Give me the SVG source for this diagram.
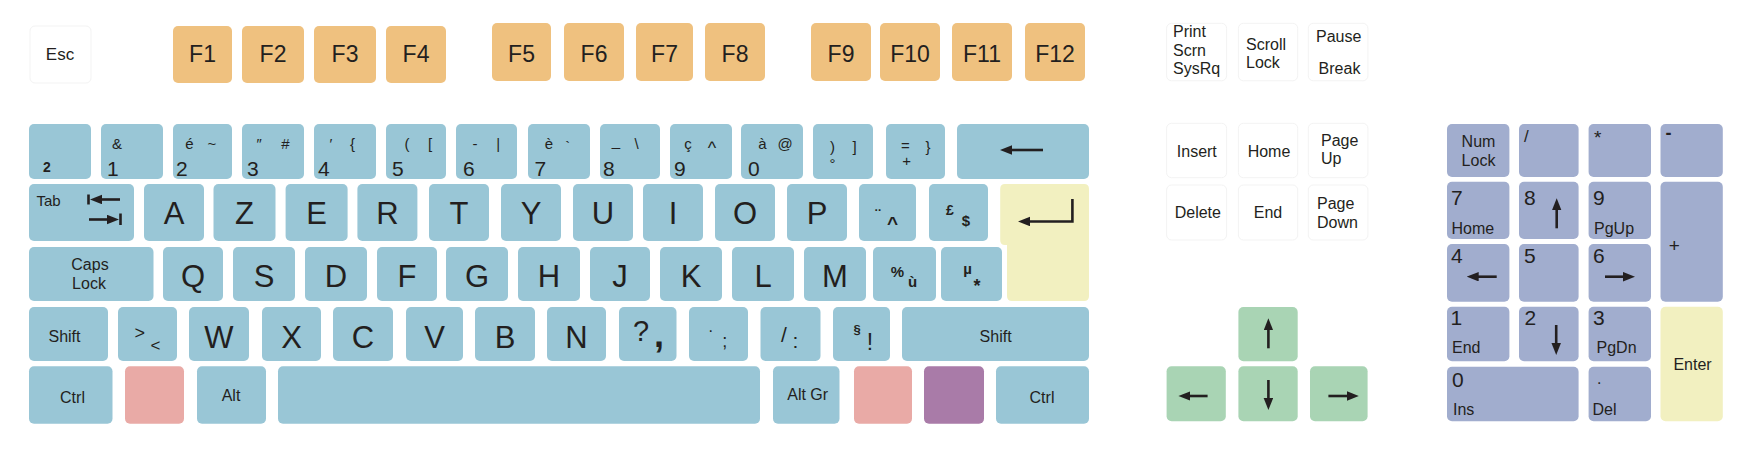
<svg xmlns="http://www.w3.org/2000/svg" width="1739" height="455" viewBox="0 0 1739 455">
<style>
rect{rx:5px;ry:5px}
.k{fill:#99C6D6}.f{fill:#EFC17F}.y{fill:#F2F0C0}.p{fill:#E9AAA6}.m{fill:#A97BA8}.g{fill:#A9D4B4}.n{fill:#A1ADCE}.w{fill:#FFFFFF;stroke:#F3F3F3;stroke-width:1}
text{font-family:"Liberation Sans",Arial,sans-serif;fill:#231F20}
.c{text-anchor:middle}
.L{font-size:31px}.F{font-size:23px}.t{font-size:16px}.d{font-size:21px}.s{font-size:15px}.b{font-weight:bold}
.a{stroke:#231F20;stroke-width:2.6;fill:none}
</style>
<defs>
<marker id="ah" markerUnits="userSpaceOnUse" markerWidth="12" markerHeight="10" refX="1" refY="4.75" orient="auto"><path d="M0,0 L12,4.75 L0,9.5 Z" fill="#231F20"/></marker>
</defs>
<rect width="1739" height="455" fill="#FFFFFF" style="rx:0"/>
<!-- Function row -->
<g id="key-esc"><rect class="w" x="30" y="26" width="61" height="57"/><text class="c" x="60" y="60" style="font-size:17px">Esc</text></g>
<g id="key-f1"><rect class="f" x="173" y="26" width="59" height="57"/><text class="c F" x="202.5" y="62">F1</text></g>
<g id="key-f2"><rect class="f" x="242" y="26" width="62" height="57"/><text class="c F" x="273" y="62">F2</text></g>
<g id="key-f3"><rect class="f" x="314" y="26" width="62" height="57"/><text class="c F" x="345" y="62">F3</text></g>
<g id="key-f4"><rect class="f" x="386" y="26" width="60" height="57"/><text class="c F" x="416" y="62">F4</text></g>
<g id="key-f5"><rect class="f" x="492" y="23" width="59" height="58"/><text class="c F" x="521.5" y="61.5">F5</text></g>
<g id="key-f6"><rect class="f" x="564" y="23" width="60" height="58"/><text class="c F" x="594" y="61.5">F6</text></g>
<g id="key-f7"><rect class="f" x="636" y="23" width="57" height="58"/><text class="c F" x="664.5" y="61.5">F7</text></g>
<g id="key-f8"><rect class="f" x="705" y="23" width="60" height="58"/><text class="c F" x="735" y="61.5">F8</text></g>
<g id="key-f9"><rect class="f" x="811" y="23" width="60" height="58"/><text class="c F" x="841" y="61.5">F9</text></g>
<g id="key-f10"><rect class="f" x="880" y="23" width="60" height="58"/><text class="c F" x="910" y="61.5">F10</text></g>
<g id="key-f11"><rect class="f" x="952" y="23" width="60" height="58"/><text class="c F" x="982" y="61.5">F11</text></g>
<g id="key-f12"><rect class="f" x="1025" y="23" width="60" height="58"/><text class="c F" x="1055" y="61.5">F12</text></g>
<!-- Number row -->
<g id="key-sup2"><rect class="k" x="29" y="124" width="62" height="55"/><text class="c b" x="47" y="171.5" style="font-size:14px">2</text></g>
<g id="key-1"><rect class="k" x="101" y="124" width="62" height="55"/><text class="c s" x="117" y="149">&amp;</text><text class="d" x="107" y="176">1</text></g>
<g id="key-2"><rect class="k" x="173" y="124" width="59" height="55"/><text class="c s" x="189.5" y="149">é</text><text class="c s" x="212" y="149">~</text><text class="d" x="176" y="176">2</text></g>
<g id="key-3"><rect class="k" x="242" y="124" width="62" height="55"/><text class="c s" x="258.5" y="149" font-style="italic">″</text><text class="c s" x="285.5" y="149">#</text><text class="d" x="247" y="176">3</text></g>
<g id="key-4"><rect class="k" x="314" y="124" width="62" height="55"/><text class="c s" x="331" y="149">′</text><text class="c s" x="352.5" y="149">{</text><text class="d" x="318" y="176">4</text></g>
<g id="key-5"><rect class="k" x="386" y="124" width="60" height="55"/><text class="c s" x="407" y="149">(</text><text class="c s" x="430" y="149">[</text><text class="d" x="392" y="176">5</text></g>
<g id="key-6"><rect class="k" x="456" y="124" width="61" height="55"/><text class="c s" x="475" y="149">-</text><text class="c s" x="498.3" y="149">|</text><text class="d" x="463" y="176">6</text></g>
<g id="key-7"><rect class="k" x="528" y="124" width="62" height="55"/><text class="c s" x="549" y="149">è</text><text class="c s" x="567.7" y="152">`</text><text class="d" x="534.5" y="176">7</text></g>
<g id="key-8"><rect class="k" x="600" y="124" width="60" height="55"/><text class="c s" x="616" y="146">_</text><text class="c s" x="636.7" y="149">\</text><text class="d" x="603" y="176">8</text></g>
<g id="key-9"><rect class="k" x="670" y="124" width="62" height="55"/><text class="c s" x="688" y="149">ç</text><text class="c" x="712" y="154" style="font-size:18px">^</text><text class="d" x="674" y="176">9</text></g>
<g id="key-0"><rect class="k" x="741" y="124" width="62" height="55"/><text class="c s" x="762.5" y="149">à</text><text class="c s" x="785" y="149">@</text><text class="d" x="748" y="176">0</text></g>
<g id="key-paren"><rect class="k" x="813" y="124" width="60" height="55"/><text class="c s" x="832.5" y="152">)</text><text class="c s" x="832.5" y="169">°</text><text class="c s" x="854.5" y="152">]</text></g>
<g id="key-equal"><rect class="k" x="886" y="124" width="59" height="55"/><text class="c s" x="905.3" y="151">=</text><text class="c s" x="906.7" y="165.5">+</text><text class="c s" x="928" y="152">}</text></g>
<g id="key-backspace"><rect class="k" x="957" y="124" width="132" height="55"/><line class="a" x1="1043" y1="150" x2="1011" y2="150" marker-end="url(#ah)"/></g>
<!-- Row 2 -->
<g id="key-tab"><rect class="k" x="29" y="184" width="105" height="57"/><text class="s" x="36.5" y="205.5">Tab</text>
<line class="a" x1="120" y1="199.5" x2="101" y2="199.5" marker-end="url(#ah)"/><line class="a" x1="88.5" y1="194.5" x2="88.5" y2="204.5"/>
<line class="a" x1="89" y1="219.5" x2="108" y2="219.5" marker-end="url(#ah)"/><line class="a" x1="120.5" y1="213.5" x2="120.5" y2="225"/></g>
<g id="key-a"><rect class="k" x="144" y="184" width="60" height="57"/><text class="c L" x="174" y="224">A</text></g>
<g id="key-z"><rect class="k" x="213.5" y="184" width="62" height="57"/><text class="c L" x="244.5" y="224">Z</text></g>
<g id="key-e"><rect class="k" x="285.6" y="184" width="62" height="57"/><text class="c L" x="316.6" y="224">E</text></g>
<g id="key-r"><rect class="k" x="357.4" y="184" width="60" height="57"/><text class="c L" x="387.4" y="224">R</text></g>
<g id="key-t"><rect class="k" x="429" y="184" width="60" height="57"/><text class="c L" x="459" y="224">T</text></g>
<g id="key-y"><rect class="k" x="501" y="184" width="60" height="57"/><text class="c L" x="531" y="224">Y</text></g>
<g id="key-u"><rect class="k" x="573" y="184" width="60" height="57"/><text class="c L" x="603" y="224">U</text></g>
<g id="key-i"><rect class="k" x="643" y="184" width="60" height="57"/><text class="c L" x="673" y="224">I</text></g>
<g id="key-o"><rect class="k" x="715" y="184" width="60" height="57"/><text class="c L" x="745" y="224">O</text></g>
<g id="key-p"><rect class="k" x="787" y="184" width="60" height="57"/><text class="c L" x="817" y="224">P</text></g>
<g id="key-circ"><rect class="k" x="859" y="184" width="57" height="57"/><text class="c b" x="878" y="221" style="font-size:16px">¨</text><text class="c b" x="892.5" y="230" style="font-size:19px">^</text></g>
<g id="key-pound"><rect class="k" x="929" y="184" width="59" height="57"/><text class="c b" x="950" y="215" style="font-size:14px">£</text><text class="c b" x="966" y="225.5" style="font-size:15px">$</text></g>
<g id="key-enter"><path class="y" d="M1005,184 H1084 Q1089,184 1089,189 V296 Q1089,301 1084,301 H1012 Q1007,301 1007,296 V245 H1005 Q1000.2,245 1000.2,240 V189 Q1000.2,184 1005,184 Z"/>
<polyline class="a" points="1072.4,199 1072.4,221.5 1029,221.5" marker-end="url(#ah)"/></g>
<!-- Row 3 -->
<g id="key-caps"><rect class="k" x="29" y="247" width="124.5" height="54"/><text class="c t" x="90" y="270">Caps</text><text class="c t" x="89" y="289.3">Lock</text></g>
<g id="key-q"><rect class="k" x="163" y="247" width="60" height="54"/><text class="c L" x="193" y="287">Q</text></g>
<g id="key-s"><rect class="k" x="233" y="247" width="62" height="54"/><text class="c L" x="264" y="287">S</text></g>
<g id="key-d"><rect class="k" x="305" y="247" width="62" height="54"/><text class="c L" x="336" y="287">D</text></g>
<g id="key-f"><rect class="k" x="377" y="247" width="60" height="54"/><text class="c L" x="407" y="287">F</text></g>
<g id="key-g"><rect class="k" x="446" y="247" width="62" height="54"/><text class="c L" x="477" y="287">G</text></g>
<g id="key-h"><rect class="k" x="518" y="247" width="62" height="54"/><text class="c L" x="549" y="287">H</text></g>
<g id="key-j"><rect class="k" x="590" y="247" width="60" height="54"/><text class="c L" x="620" y="287">J</text></g>
<g id="key-k"><rect class="k" x="660" y="247" width="62" height="54"/><text class="c L" x="691" y="287">K</text></g>
<g id="key-l"><rect class="k" x="732" y="247" width="62" height="54"/><text class="c L" x="763" y="287">L</text></g>
<g id="key-m"><rect class="k" x="804" y="247" width="62" height="54"/><text class="c L" x="835" y="287">M</text></g>
<g id="key-percent"><rect class="k" x="873" y="247" width="63" height="54"/><text class="c b s" x="897.5" y="277">%</text><text class="c b s" x="912.5" y="286.5">ù</text></g>
<g id="key-mu"><rect class="k" x="941" y="247" width="61" height="54"/><text class="c b s" x="967.7" y="274">µ</text><text class="c b" x="977" y="292" style="font-size:18px">*</text></g>
<!-- Row 4 -->
<g id="key-lshift"><rect class="k" x="29" y="307" width="79" height="54"/><text class="c t" x="64.5" y="341.5">Shift</text></g>
<g id="key-lt"><rect class="k" x="118" y="307" width="59" height="54"/><text class="c" x="139.7" y="338.5" style="font-size:18px">&gt;</text><text class="c" x="155.4" y="351" style="font-size:17px">&lt;</text></g>
<g id="key-w"><rect class="k" x="189" y="307" width="60" height="54"/><text class="c L" x="219" y="347.5">W</text></g>
<g id="key-x"><rect class="k" x="262" y="307" width="59" height="54"/><text class="c L" x="291.5" y="347.5">X</text></g>
<g id="key-c"><rect class="k" x="333" y="307" width="60" height="54"/><text class="c L" x="363" y="347.5">C</text></g>
<g id="key-v"><rect class="k" x="406" y="307" width="57" height="54"/><text class="c L" x="434.5" y="347.5">V</text></g>
<g id="key-b"><rect class="k" x="475" y="307" width="60" height="54"/><text class="c L" x="505" y="347.5">B</text></g>
<g id="key-n"><rect class="k" x="547" y="307" width="59" height="54"/><text class="c L" x="576.5" y="347.5">N</text></g>
<g id="key-comma"><rect class="k" x="619" y="307" width="57.5" height="54"/><text class="c" x="641" y="340.7" style="font-size:29px">?</text><text class="c b" x="659" y="347" style="font-size:36px">,</text></g>
<g id="key-semicolon"><rect class="k" x="689" y="307" width="59" height="54"/><text class="c" x="710.7" y="332" style="font-size:16px">.</text><text class="c" x="724.7" y="346.5" style="font-size:18px">;</text></g>
<g id="key-colon"><rect class="k" x="760.5" y="307" width="60" height="54"/><text class="c" x="784" y="341.5" style="font-size:21px">/</text><text class="c" x="795.3" y="348" style="font-size:21px">:</text></g>
<g id="key-excl"><rect class="k" x="833" y="307" width="57" height="54"/><text class="c b" x="857" y="334" style="font-size:13px">§</text><text class="c" x="870" y="350" style="font-size:23px">!</text></g>
<g id="key-rshift"><rect class="k" x="902" y="307" width="187" height="54"/><text class="c t" x="995.6" y="341.5">Shift</text></g>
<!-- Row 5 -->
<g id="key-lctrl"><rect class="k" x="29" y="366.3" width="83.5" height="57.5"/><text class="c t" x="72.5" y="403.3">Ctrl</text></g>
<g id="key-lwin"><rect class="p" x="125" y="366.3" width="59" height="57.5"/></g>
<g id="key-alt"><rect class="k" x="197" y="366.3" width="69" height="57.5"/><text class="c t" x="231" y="401">Alt</text></g>
<g id="key-space"><rect class="k" x="278" y="366.3" width="482" height="57.5"/></g>
<g id="key-altgr"><rect class="k" x="773" y="366.3" width="66.5" height="57.5"/><text class="c t" x="807.7" y="400.3">Alt Gr</text></g>
<g id="key-rwin"><rect class="p" x="854" y="366.3" width="58" height="57.5"/></g>
<g id="key-menu"><rect class="m" x="924" y="366.3" width="60" height="57.5"/></g>
<g id="key-rctrl"><rect class="k" x="996" y="366.3" width="93" height="57.5"/><text class="c t" x="1042" y="403.3">Ctrl</text></g>
<!-- Navigation cluster -->
<g id="key-print"><rect class="w" x="1166.6" y="23.3" width="60" height="57.5"/><text class="t" x="1173" y="37.3">Print</text><text class="t" x="1173" y="56">Scrn</text><text class="t" x="1173" y="74.3">SysRq</text></g>
<g id="key-scroll"><rect class="w" x="1238.4" y="23.3" width="59.3" height="57.5"/><text class="t" x="1246" y="50">Scroll</text><text class="t" x="1246" y="68.3">Lock</text></g>
<g id="key-pause"><rect class="w" x="1308.3" y="23.3" width="59.6" height="57.5"/><text class="c t" x="1338.7" y="41.7">Pause</text><text class="c t" x="1339.5" y="74">Break</text></g>
<g id="key-insert"><rect class="w" x="1166.6" y="123.3" width="60" height="54.4"/><text class="c t" x="1196.8" y="156.7">Insert</text></g>
<g id="key-home"><rect class="w" x="1238.4" y="123.3" width="59.3" height="54.4"/><text class="c t" x="1269" y="156.7">Home</text></g>
<g id="key-pgup"><rect class="w" x="1308.3" y="123.3" width="59.6" height="54.4"/><text class="t" x="1321" y="146">Page</text><text class="t" x="1321" y="164">Up</text></g>
<g id="key-delete"><rect class="w" x="1166.6" y="185" width="60" height="55"/><text class="c t" x="1197.8" y="218.3">Delete</text></g>
<g id="key-end"><rect class="w" x="1238.4" y="185" width="59.3" height="55"/><text class="c t" x="1268" y="218.3">End</text></g>
<g id="key-pgdn"><rect class="w" x="1308.3" y="185" width="59.6" height="55"/><text class="t" x="1317" y="209.3">Page</text><text class="t" x="1317" y="228.3">Down</text></g>
<!-- Arrow keys -->
<g id="key-up"><rect class="g" x="1238.4" y="307" width="59.3" height="54.3"/><line class="a" x1="1268.4" y1="348.3" x2="1268.4" y2="329.3" marker-end="url(#ah)"/></g>
<g id="key-left"><rect class="g" x="1166.6" y="366.3" width="59.2" height="55"/><line class="a" x1="1207.6" y1="396" x2="1189.4" y2="396" marker-end="url(#ah)"/></g>
<g id="key-down"><rect class="g" x="1238.4" y="366.3" width="59.3" height="55"/><line class="a" x1="1268.4" y1="380" x2="1268.4" y2="399" marker-end="url(#ah)"/></g>
<g id="key-right"><rect class="g" x="1310" y="366.3" width="57.6" height="55"/><line class="a" x1="1328.4" y1="396" x2="1347.8" y2="396" marker-end="url(#ah)"/></g>
<!-- Numeric keypad -->
<g id="key-numlock"><rect class="n" x="1447" y="124" width="62.4" height="53"/><text class="c t" x="1478.5" y="146.7">Num</text><text class="c t" x="1478.5" y="165.7">Lock</text></g>
<g id="key-kpdiv"><rect class="n" x="1519" y="124" width="59.6" height="53"/><text x="1524" y="142.3" style="font-size:17px">/</text></g>
<g id="key-kpmul"><rect class="n" x="1588.6" y="124" width="62.4" height="53"/><text x="1594" y="143.5" style="font-size:19px">*</text></g>
<g id="key-kpsub"><rect class="n" x="1660.5" y="124" width="62.3" height="53"/><text class="b" x="1665.5" y="138.6" style="font-size:18px">-</text></g>
<g id="key-kp7"><rect class="n" x="1447" y="181.7" width="62.4" height="57.3"/><text class="d" x="1451" y="205">7</text><text class="t" x="1451.5" y="234.3">Home</text></g>
<g id="key-kp8"><rect class="n" x="1519" y="181.7" width="59.6" height="57.3"/><text class="d" x="1524" y="205">8</text><line class="a" x1="1556.7" y1="228.3" x2="1556.7" y2="209.3" marker-end="url(#ah)"/></g>
<g id="key-kp9"><rect class="n" x="1588.6" y="181.7" width="62.4" height="57.3"/><text class="d" x="1593" y="205">9</text><text class="t" x="1594" y="234.3">PgUp</text></g>
<g id="key-kpadd"><rect class="n" x="1660.5" y="181.7" width="62.3" height="120"/><text class="c" x="1674.3" y="251.5" style="font-size:19px">+</text></g>
<g id="key-kp4"><rect class="n" x="1447" y="244" width="62.4" height="57.7"/><text class="d" x="1451" y="263.3">4</text><line class="a" x1="1496.7" y1="276.7" x2="1477.7" y2="276.7" marker-end="url(#ah)"/></g>
<g id="key-kp5"><rect class="n" x="1519" y="244" width="59.6" height="57.7"/><text class="d" x="1524" y="263.3">5</text></g>
<g id="key-kp6"><rect class="n" x="1588.6" y="244" width="62.4" height="57.7"/><text class="d" x="1593" y="263.3">6</text><line class="a" x1="1605" y1="276.7" x2="1624" y2="276.7" marker-end="url(#ah)"/></g>
<g id="key-kp1"><rect class="n" x="1447" y="306.7" width="62.4" height="54.6"/><text class="d" x="1450.5" y="325">1</text><text class="t" x="1452" y="353.3">End</text></g>
<g id="key-kp2"><rect class="n" x="1519" y="306.7" width="59.6" height="54.6"/><text class="d" x="1524.5" y="325">2</text><line class="a" x1="1556.2" y1="325" x2="1556.2" y2="344" marker-end="url(#ah)"/></g>
<g id="key-kp3"><rect class="n" x="1588.6" y="306.7" width="62.4" height="54.6"/><text class="d" x="1593" y="325">3</text><text class="t" x="1596.5" y="353.3">PgDn</text></g>
<g id="key-kpenter"><rect class="y" x="1660.5" y="306.7" width="62.3" height="114.6"/><text class="c t" x="1692.5" y="370">Enter</text></g>
<g id="key-kp0"><rect class="n" x="1447" y="366.7" width="131.6" height="54.6"/><text class="d" x="1452" y="386.7">0</text><text class="t" x="1453" y="415">Ins</text></g>
<g id="key-kpdel"><rect class="n" x="1588.6" y="366.7" width="62.4" height="54.6"/><text x="1597" y="383.5" style="font-size:16px">.</text><text class="t" x="1592.5" y="415">Del</text></g>
<g id="connectors"></g>
</svg>
